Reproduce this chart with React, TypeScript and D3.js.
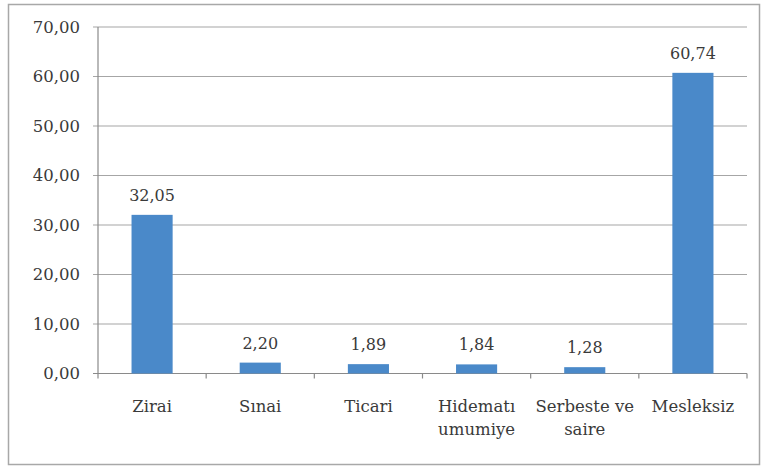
import React from "react";
import * as d3 from "d3";

const categories: string[][] = [
  ["Zirai"],
  ["Sınai"],
  ["Ticari"],
  ["Hidematı", "umumiye"],
  ["Serbeste ve", "saire"],
  ["Mesleksiz"],
];
const values: number[] = [32.05, 2.2, 1.89, 1.84, 1.28, 60.74];
const yTicks: number[] = [0, 10, 20, 30, 40, 50, 60, 70];

const fmt = (v: number) => v.toFixed(2).replace(".", ",");

export default function App() {
  const W = 763, H = 468;
  const left = 98, right = 747, top = 27, bottom = 373.5;
  const x = d3.scaleBand<number>().domain(d3.range(values.length)).range([left, right]).paddingInner(0.62).paddingOuter(0.31);
  const xb = d3.scaleBand<number>().domain(d3.range(values.length)).range([left, right]);
  const y = d3.scaleLinear().domain([0, 70]).range([bottom, top]);
  const font = "'DejaVu Serif', serif";
  const textColor = "#3a3a3a";
  return (
    <svg width={W} height={H} style={{ position: "absolute", left: 0, top: 0 }}>
      <rect x={0} y={0} width={W} height={H} fill="#fff" />
      <rect x={8.5} y={4.5} width={751} height={460} fill="#fff" stroke="#a8a8a8" strokeWidth={1.5} />
      {yTicks.map((t) => (
        <g key={t}>
          <line x1={left - 5} x2={right} y1={y(t)} y2={y(t)} stroke={t === 0 ? "#8a8a8a" : "#a6a6a6"} strokeWidth={1.2} />
          <text x={80} y={y(t)} dy="0.35em" textAnchor="end" fontFamily={font} fontSize={16.5} fill={textColor}>
            {fmt(t)}
          </text>
        </g>
      ))}
      <line x1={left} x2={left} y1={top} y2={bottom} stroke="#8a8a8a" strokeWidth={1.2} />
      {d3.range(values.length + 1).map((i) => {
        const xx = i < values.length ? (xb(i) as number) : right;
        return <line key={i} x1={xx} x2={xx} y1={bottom} y2={bottom + 5} stroke="#8a8a8a" strokeWidth={1.2} />;
      })}
      {values.map((v, i) => (
        <g key={i}>
          <rect x={x(i)} y={y(v)} width={x.bandwidth()} height={bottom - y(v)} fill="#4a89c9" />
          <text x={(x(i) as number) + x.bandwidth() / 2} y={y(v) - 14} textAnchor="middle" fontFamily={font} fontSize={16} fill={textColor}>
            {fmt(v)}
          </text>
          {categories[i].map((line, j) => (
            <text key={j} x={(xb(i) as number) + xb.bandwidth() / 2} y={412 + j * 23} textAnchor="middle" fontFamily={font} fontSize={16.5} fill={textColor}>
              {line}
            </text>
          ))}
        </g>
      ))}
    </svg>
  );
}
